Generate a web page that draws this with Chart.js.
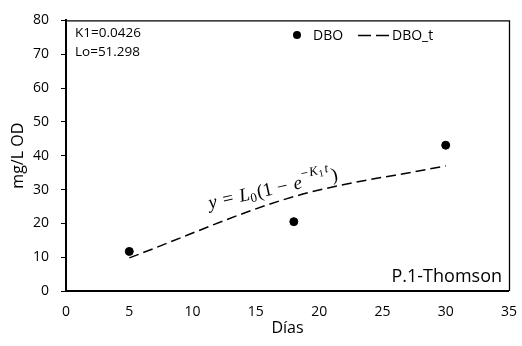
<!DOCTYPE html>
<html>
<head>
<meta charset="utf-8">
<script src="https://cdn.jsdelivr.net/npm/chart.js@4/dist/chart.umd.min.js"></script>
<style>
html, body { margin: 0; padding: 0; background: #fff; }
</style>
</head>
<body>
<canvas id="chart_dbo" width="522" height="346"></canvas>
<script>

// DATA

var dias_obs = [5, 18, 30];
var dbo_obs = [11.7, 20.5, 43.1];

var dias_t = [5, 18, 30];
var dbo_t = [9.8, 27.9, 37.0];

var x_ticks = [0, 5, 10, 15, 20, 25, 30, 35];
var y_ticks = [0, 10, 20, 30, 40, 50, 60, 70, 80];

var label_obs = 'DBO';
var label_t = 'DBO_t';
var k1_text = 'K1=0.0426';
var lo_text = 'Lo=51.298';
var sample_text = 'P.1-Thomson';

var FONT = '"Open Sans", Lato, sans-serif';
var MATH = '"Liberation Serif", "DejaVu Serif", serif';

// PLUGINS

// top + right frame, text boxes, legend, equation
var extrasPlugin = {
    id: 'extras',
    afterDraw(chart) {
        let ctx = chart.ctx;
        let a = chart.chartArea;

        ctx.save();
        ctx.strokeStyle = '#000';
        ctx.lineWidth = 1.3;
        ctx.beginPath();
        ctx.moveTo(a.left, a.top + 0.5);
        ctx.lineTo(a.right + 0.5, a.top + 0.5);
        ctx.lineTo(a.right + 0.5, a.bottom);
        ctx.stroke();

        ctx.fillStyle = '#000';
        ctx.textBaseline = 'middle';
        ctx.textAlign = 'left';
        ctx.font = '13.5px ' + FONT;
        ctx.fillText(k1_text, a.left + 9, 33);
        ctx.fillText(lo_text, a.left + 9, 52);

        ctx.font = '18px ' + FONT;
        ctx.textAlign = 'right';
        ctx.fillText(sample_text, a.right - 7, 277);

        // legend
        let ds = chart.data.datasets;
        ctx.textAlign = 'left';
        ctx.font = '14px ' + FONT;
        ctx.beginPath();
        ctx.arc(297, 35, 4, 0, Math.PI * 2);
        ctx.fill();
        ctx.fillText(ds[0].label, 313, 36);
        ctx.lineWidth = 1.5;
        ctx.setLineDash([13, 5]);
        ctx.beginPath();
        ctx.moveTo(358, 35.5);
        ctx.lineTo(389, 35.5);
        ctx.stroke();
        ctx.setLineDash([]);
        ctx.fillText(ds[1].label, 392, 36);

        drawEquation(ctx, chart.scales.x.getPixelForValue(11.35), chart.scales.y.getPixelForValue(24.3), -0.22);
        ctx.restore();
    }
};

function drawEquation(ctx, x, y, angle) {
    let big = 19, small = 13, tiny = 10;
    let parts = [
        {t: 'y', f: 'italic ' + big + 'px ' + MATH, dy: 0, sp: 1.5},
        {t: ' = ', f: big + 'px ' + MATH, dy: 0, sp: 1.5},
        {t: 'L', f: 'italic ' + big + 'px ' + MATH, dy: 0, sp: 0},
        {t: '0', f: small + 'px ' + MATH, dy: 3, sp: 1},
        {t: '(1 \u2212 ', f: big + 'px ' + MATH, dy: 0, sp: 1.5},
        {t: 'e', f: 'italic ' + big + 'px ' + MATH, dy: 0, sp: 1},
        {t: '\u2212', f: small + 'px ' + MATH, dy: -10, sp: 1},
        {t: 'K', f: 'italic ' + small + 'px ' + MATH, dy: -10, sp: 0.5},
        {t: '1', f: tiny + 'px ' + MATH, dy: -7, sp: 1.5},
        {t: 't', f: 'italic ' + small + 'px ' + MATH, dy: -10, sp: 1.5},
        {t: ')', f: big + 'px ' + MATH, dy: 0, sp: 0}
    ];
    ctx.save();
    ctx.translate(x, y);
    ctx.rotate(angle);
    ctx.textBaseline = 'alphabetic';
    ctx.textAlign = 'left';
    ctx.fillStyle = '#000';
    let cx = 0;
    for (let i = 0; i < parts.length; i++) {
        ctx.font = parts[i].f;
        ctx.fillText(parts[i].t, cx, parts[i].dy);
        cx += ctx.measureText(parts[i].t).width + parts[i].sp;
    }
    ctx.restore();
}

// CHART

function drawChart_dbo() {

    let obs = dias_obs.map((d, i) => ({x: d, y: dbo_obs[i]}));
    let fit = dias_t.map((d, i) => ({x: d, y: dbo_t[i]}));

    new Chart(document.getElementById('chart_dbo').getContext('2d'), {
        type: 'scatter',
        data: {
            datasets: [
                {
                    label: label_obs,
                    data: obs,
                    backgroundColor: '#000',
                    borderColor: '#000',
                    pointRadius: 4,
                    showLine: false,
                },
                {
                    label: label_t,
                    data: fit,
                    borderColor: '#000',
                    borderWidth: 1.5,
                    borderDash: [10, 5],
                    pointRadius: 0,
                    showLine: true,
                    cubicInterpolationMode: 'monotone',
                    fill: false,
                }
            ],
        },
        options: {
            responsive: false,
            animation: false,
            layout: {
                padding: {top: 16, right: 10, left: 0, bottom: 0}
            },
            plugins: {
                legend: {display: false},
                tooltip: {enabled: false},
            },
            scales: {
                x: {
                    type: 'linear',
                    min: 0,
                    max: 35,
                    afterBuildTicks: (s) => { s.ticks = x_ticks.map(v => ({value: v})); },
                    afterFit: (s) => { s.height = 55; },
                    grid: {display: false},
                    border: {display: true, color: '#000', width: 2},
                    ticks: {color: '#000', font: {size: 14, family: FONT}, padding: 5, maxRotation: 0},
                    title: {display: true, text: 'Días', color: '#000', font: {size: 16, family: FONT}, padding: {top: 0, bottom: 8}},
                },
                y: {
                    type: 'linear',
                    min: 0,
                    max: 80,
                    afterBuildTicks: (s) => { s.ticks = y_ticks.map(v => ({value: v})); },
                    afterFit: (s) => { s.width = 66; },
                    grid: {display: true, drawOnChartArea: false, drawTicks: true, tickLength: 5, color: '#000'},
                    border: {display: true, color: '#000', width: 2},
                    ticks: {color: '#000', font: {size: 14, family: FONT}, padding: 12},
                    title: {display: true, text: 'mg/L OD', color: '#000', font: {size: 16, family: FONT}, padding: {top: 9, bottom: 0}},
                }
            }
        },
        plugins: [extrasPlugin]
    });
}

drawChart_dbo();

</script>
</body>
</html>
